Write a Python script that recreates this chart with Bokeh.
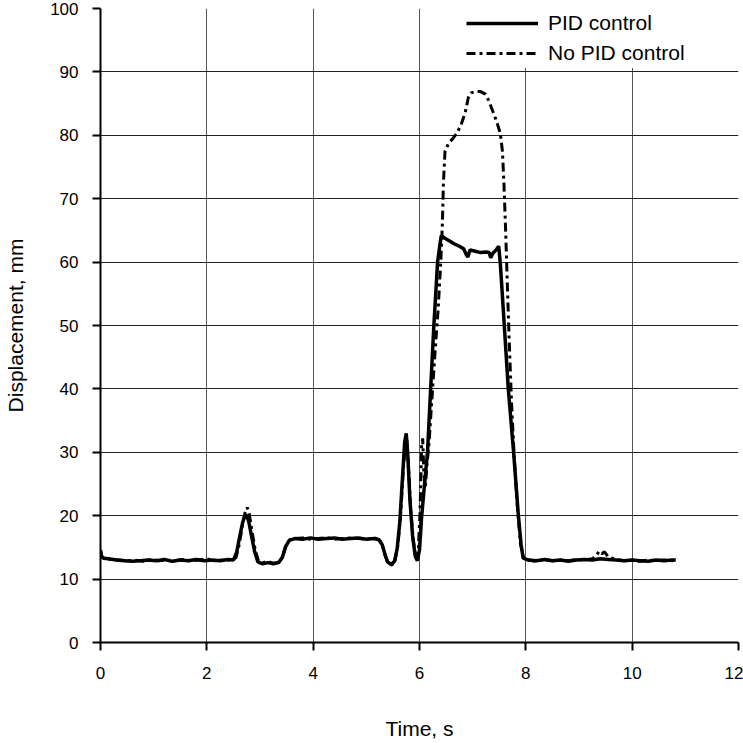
from bokeh.plotting import figure
from bokeh.models import Legend, LegendItem, FixedTicker
from bokeh.embed import file_html
from bokeh.resources import INLINE

# ---- data ----
t_pid = [0.00, 0.02, 0.06, 0.15, 0.30, 0.45, 0.60, 0.75, 0.90, 1.05,
         1.20, 1.35, 1.50, 1.65, 1.80, 1.95, 2.10, 2.25, 2.40, 2.50,
         2.56, 2.62, 2.67, 2.71, 2.75, 2.79, 2.84, 2.90, 2.96, 3.05,
         3.15, 3.25, 3.35, 3.42, 3.48, 3.55, 3.65, 3.80, 3.95, 4.10,
         4.25, 4.40, 4.55, 4.70, 4.85, 5.00, 5.15, 5.24, 5.30, 5.35,
         5.40, 5.47, 5.53, 5.58, 5.63, 5.68, 5.72, 5.75, 5.78, 5.82,
         5.87, 5.92, 5.96, 6.00, 6.04, 6.10, 6.15, 6.21, 6.27, 6.34,
         6.38, 6.41, 6.47, 6.55, 6.65, 6.75, 6.83, 6.88, 6.91, 6.95,
         7.05, 7.15, 7.25, 7.31, 7.34, 7.38, 7.44, 7.49, 7.52, 7.58,
         7.67, 7.77, 7.86, 7.91, 7.95, 8.05, 8.20, 8.35, 8.50, 8.65,
         8.80, 8.95, 9.10, 9.25, 9.40, 9.55, 9.70, 9.85, 10.00, 10.15,
         10.30, 10.45, 10.60, 10.75, 10.82]
d_pid = [14.6, 13.6, 13.3, 13.2, 13.0, 12.9, 12.8, 12.9, 13.0, 12.9,
         13.1, 12.8, 13.0, 12.9, 13.1, 12.9, 13.0, 12.9, 13.1, 13.0,
         14.2, 16.8, 18.8, 19.9, 20.1, 19.0, 16.8, 14.3, 12.7, 12.4,
         12.6, 12.4, 12.6, 13.4, 15.1, 16.1, 16.4, 16.3, 16.5, 16.3,
         16.4, 16.5, 16.3, 16.4, 16.5, 16.3, 16.4, 16.2, 15.4, 13.9,
         12.7, 12.3, 12.8, 14.8, 19.0, 26.0, 31.5, 33.0, 29.5, 22.5,
         16.8, 13.6, 12.9, 14.6, 19.8, 25.5, 30.0, 40.0, 50.0, 60.0,
         62.5, 64.2, 63.8, 63.4, 62.9, 62.5, 62.1, 61.2, 60.8, 61.9,
         61.7, 61.5, 61.6, 61.5, 60.7, 61.4, 61.9, 62.5, 59.8, 52.0,
         40.0, 30.0, 20.0, 15.5, 13.3, 13.0, 12.9, 13.1, 12.9, 13.0,
         12.8, 13.0, 13.1, 13.0, 13.2, 13.1, 13.0, 12.9, 13.0, 12.9,
         12.8, 13.0, 12.9, 13.0, 13.0]

t_nopid = [0.00, 0.02, 0.06, 0.20, 0.35, 0.50, 0.65, 0.80, 0.95, 1.10,
           1.25, 1.40, 1.55, 1.70, 1.85, 2.00, 2.15, 2.30, 2.45, 2.55,
           2.61, 2.67, 2.72, 2.76, 2.80, 2.85, 2.91, 2.97, 3.05, 3.15,
           3.25, 3.35, 3.43, 3.49, 3.56, 3.66, 3.80, 3.95, 4.10, 4.25,
           4.40, 4.55, 4.70, 4.85, 5.00, 5.15, 5.25, 5.31, 5.36, 5.41,
           5.48, 5.54, 5.59, 5.64, 5.69, 5.73, 5.76, 5.79, 5.83, 5.88,
           5.93, 5.97, 6.01, 6.04, 6.06, 6.08, 6.11, 6.14, 6.18, 6.23,
           6.29, 6.35, 6.40, 6.43, 6.45, 6.48, 6.55, 6.62, 6.70, 6.78,
           6.86, 6.92, 6.97, 7.05, 7.15, 7.24, 7.30, 7.37, 7.45, 7.52,
           7.56, 7.59, 7.62, 7.65, 7.69, 7.73, 7.78, 7.84, 7.90, 7.96,
           8.05, 8.20, 8.35, 8.50, 8.65, 8.80, 8.95, 9.10, 9.25, 9.33,
           9.38, 9.43, 9.48, 9.55, 9.70, 9.85, 10.00, 10.15, 10.30, 10.45,
           10.60, 10.75, 10.85]
d_nopid = [14.4, 13.5, 13.3, 13.1, 13.0, 12.9, 13.0, 12.8, 13.1, 12.9,
           13.0, 12.9, 13.1, 12.9, 13.0, 13.2, 12.9, 13.0, 13.0, 13.4,
           15.5, 18.5, 20.5, 21.3, 20.2, 17.5, 14.6, 12.9, 12.6, 12.8,
           12.5, 12.7, 13.6, 15.3, 16.2, 16.4, 16.5, 16.3, 16.4, 16.5,
           16.3, 16.4, 16.5, 16.4, 16.3, 16.5, 16.1, 15.1, 13.6, 12.5,
           12.2, 12.9, 15.2, 19.5, 26.5, 31.0, 32.0, 28.5, 21.5, 16.2,
           13.5, 13.2, 20.5, 31.0, 32.2, 27.0, 24.5, 28.0, 31.5, 38.0,
           45.5, 52.5, 60.0, 66.0, 72.5, 77.5, 78.8, 79.4, 80.3, 81.6,
           83.6, 86.0, 86.7, 86.9, 86.9, 86.5, 85.5, 84.0, 82.2, 80.3,
           77.5, 72.0, 65.0, 57.0, 47.0, 38.0, 29.5, 21.5, 15.5, 13.2,
           13.0, 12.8, 13.1, 12.9, 13.0, 12.9, 13.1, 13.0, 13.2, 13.8,
           14.4, 14.0, 14.3, 13.5, 13.1, 12.9, 13.0, 12.8, 13.0, 12.9,
           13.0, 12.9, 13.1]

x_ticks = [0, 2, 4, 6, 8, 10, 12]
y_ticks = [0, 10, 20, 30, 40, 50, 60, 70, 80, 90, 100]
series_labels = ["PID control", "No PID control"]
x_title = "Time, s"
y_title = "Displacement, mm"

FONT = "Liberation Sans"

p = figure(width=743, height=743, x_range=(0, 12), y_range=(0, 100),
           output_backend="svg", toolbar_location=None,
           min_border_left=100, min_border_right=5,
           min_border_top=8, min_border_bottom=101)
p.outline_line_color = None
p.background_fill_color = "white"

for ax, ticks in ((p.xaxis[0], x_ticks), (p.yaxis[0], y_ticks)):
    ax.ticker = FixedTicker(ticks=ticks)
    ax.major_tick_out = 8
    ax.major_tick_in = 0
    ax.minor_tick_line_color = None
    ax.axis_line_width = 2
    ax.axis_line_color = "black"
    ax.major_tick_line_width = 2
    ax.major_tick_line_color = "black"
    ax.major_label_text_font = FONT
    ax.major_label_text_font_size = "17px"
    ax.major_label_text_color = "black"
    ax.axis_label_text_font = FONT
    ax.axis_label_text_font_size = "21px"
    ax.axis_label_text_font_style = "normal"
    ax.axis_label_text_color = "black"

p.xaxis.axis_label = x_title
p.yaxis.axis_label = y_title
p.xaxis.major_label_standoff = 16
p.yaxis.major_label_standoff = 14
p.xaxis.axis_label_standoff = 35
p.yaxis.axis_label_standoff = 20

p.xgrid.ticker = FixedTicker(ticks=x_ticks)
p.ygrid.ticker = FixedTicker(ticks=y_ticks)
p.xgrid.grid_line_color = "#555555"
p.ygrid.grid_line_color = "#222222"
p.xgrid.grid_line_width = 1
p.ygrid.grid_line_width = 1

r_nopid = p.line(t_nopid, d_nopid, line_color="black", line_width=3,
                 line_dash="9 4 3 4")
r_pid = p.line(t_pid, d_pid, line_color="black", line_width=3.5)

legend = Legend(items=[LegendItem(label=series_labels[0], renderers=[r_pid]),
                       LegendItem(label=series_labels[1], renderers=[r_nopid])],
                location="top_right", margin=0, padding=10, spacing=0,
                glyph_width=72, glyph_height=20, label_height=30,
                label_width=190, label_standoff=10,
                label_text_font=FONT, label_text_font_size="21px",
                label_text_color="black",
                background_fill_color="white", background_fill_alpha=1.0,
                border_line_color=None)
p.add_layout(legend)

open("out.html", "w").write(file_html(p, INLINE))
